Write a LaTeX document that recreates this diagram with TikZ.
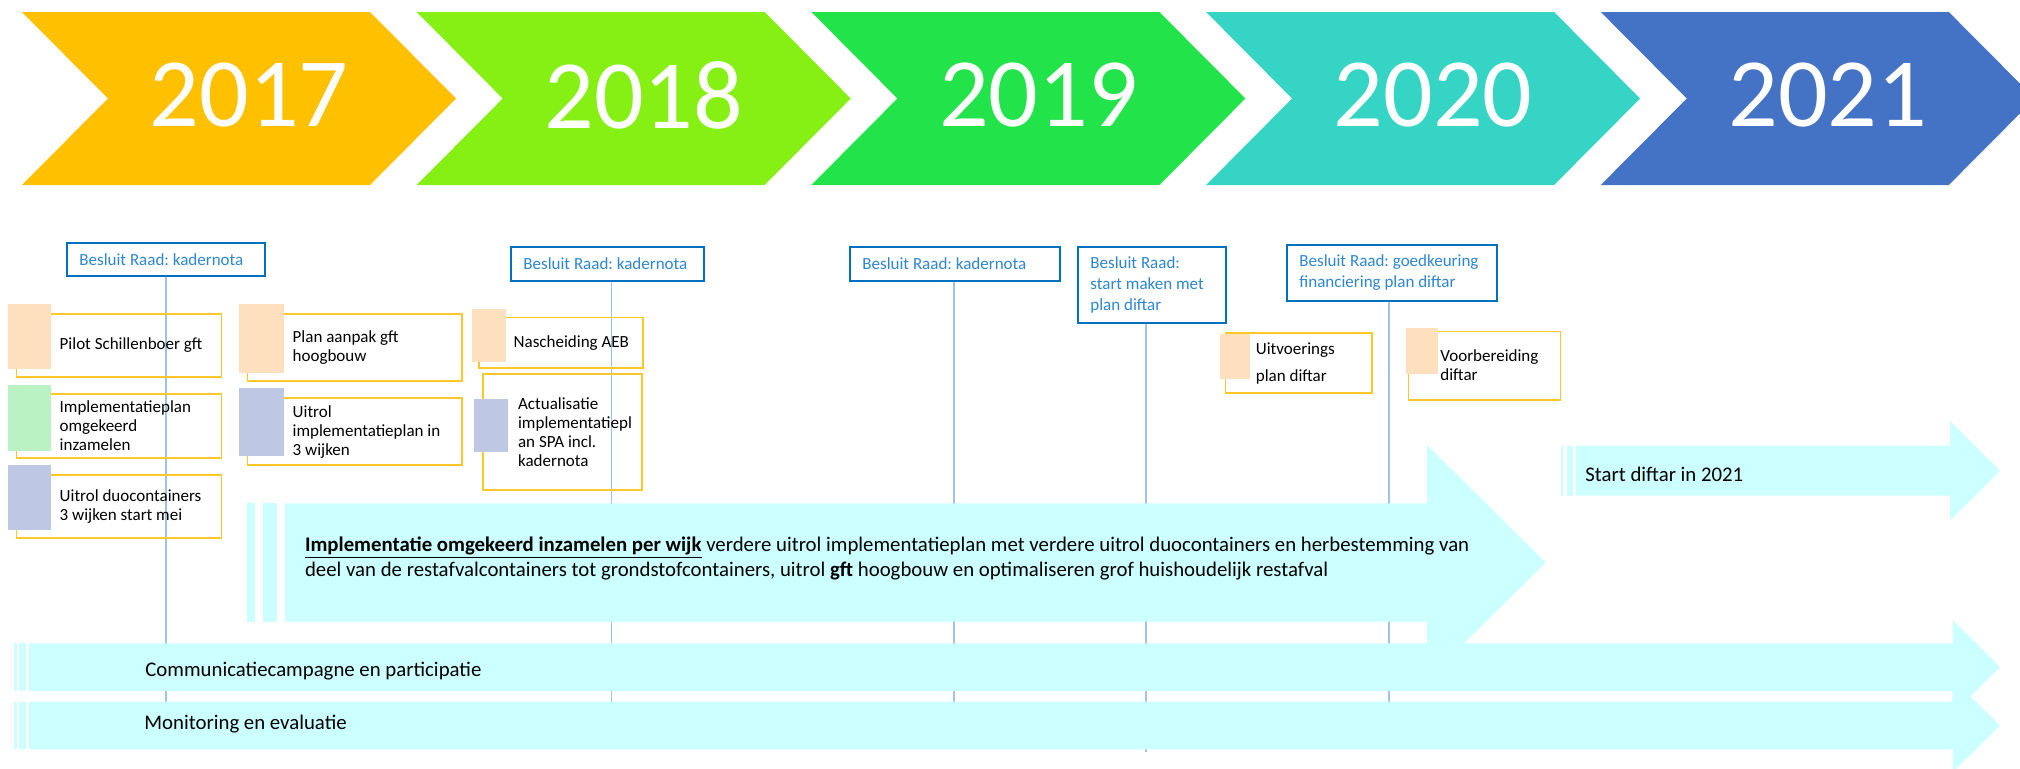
\documentclass[tikz,border=0pt]{standalone}
\usepackage{fontspec}
\setmainfont{Carlito}
\definecolor{cY}{RGB}{255,192,0}
\definecolor{cGa}{RGB}{134,240,20}
\definecolor{cGb}{RGB}{34,227,74}
\definecolor{cT}{RGB}{54,212,196}
\definecolor{cB}{RGB}{68,114,196}
\definecolor{cyanA}{RGB}{204,255,255}
\definecolor{peach}{RGB}{255,224,190}
\definecolor{mint}{RGB}{186,242,196}
\definecolor{lav}{RGB}{190,200,228}
\definecolor{ybord}{RGB}{255,200,40}
\definecolor{bbord}{RGB}{0,112,192}
\definecolor{btext}{RGB}{46,134,210}
\definecolor{vline}{RGB}{157,195,230}
\newcommand\chev[2]{\fill[#2] (#1,12) -- ++(348,0) -- ++(86,86.5) -- ++(-86,86.5) -- ++(-348,0) -- ++(86,-86.5) -- cycle;}
\newcommand\yrect[5]{\node[ybox, minimum width={(#4-#2)*0.5pt}, minimum height={(#5-#3)*0.5pt}] (#1) at (#2,#3) {};}
\newcommand\sqr[6]{\node[sq, fill=#6, minimum width={(#4-#2)*0.5pt}, minimum height={(#5-#3)*0.5pt}] (#1) at (#2,#3) {};}
\begin{document}
\frenchspacing
\begin{tikzpicture}[x=0.5pt,y=-0.5pt,
  year/.style={font=\fontsize{49}{49}\selectfont, text=white, inner sep=0},
  bbox/.style={draw=bbord, line width=1pt, fill=white, inner sep=0, anchor=north west},
  btxt/.style={anchor=west, align=left, inner sep=0, font=\fontsize{8.5}{10.5}\selectfont, text=btext},
  ybox/.style={draw=ybord, line width=0.75pt, inner sep=0, anchor=north west},
  sq/.style={inner sep=0, anchor=north west},
  ytext/.style={anchor=west, align=left, inner sep=0, font=\fontsize{8.5}{9.5}\selectfont},
  vl/.style={draw=vline, line width=0.75pt},
  afill/.style={fill=cyanA},
  atext/.style={anchor=west, inner sep=0, font=\fontsize{10.4}{12}\selectfont}]
\useasboundingbox (0,0) rectangle (2020,768);
\clip (0,0) rectangle (2020,768);
% chevrons
\chev{22}{cY}
\chev{416.7}{cGa}
\chev{811.4}{cGb}
\chev{1206.1}{cT}
\chev{1600.8}{cB}
\node[year] (y17) at (249,95.5) {2017};
\node[year] (y18) at (643.7,95.5) {2018};
\node[year] (y19) at (1038.4,95.5) {2019};
\node[year] (y20) at (1433.1,95.5) {2020};
\node[year] (y21) at (1827.8,95.5) {2021};
% decision boxes
\node[bbox, minimum width=99pt, minimum height=16.5pt] (b1) at (66,242) {};
\node[btxt] (bt1) at ([xshift=6.5pt]b1.west) {Besluit Raad: kadernota};
\node[bbox, minimum width=96.5pt, minimum height=17pt] (b2) at (510,246) {};
\node[btxt] (bt2) at ([xshift=6.5pt]b2.west) {Besluit Raad: kadernota};
\node[bbox, minimum width=105pt, minimum height=17pt] (b3) at (849,246) {};
\node[btxt] (bt3) at ([xshift=6.5pt]b3.west) {Besluit Raad: kadernota};
\node[bbox, minimum width=74pt, minimum height=38pt] (b4) at (1077,246) {};
\node[btxt] (bt4) at ([xshift=6.5pt]b4.west) {Besluit Raad:\\start maken met\\plan diftar};
\node[bbox, minimum width=105pt, minimum height=28pt] (b5) at (1286,244) {};
\node[btxt] (bt5) at ([xshift=6.5pt]b5.west) {Besluit Raad: goedkeuring\\financiering plan diftar};
\coordinate (e1) at (166,745);
\coordinate (e2) at (611.7,745);
\coordinate (e3) at (954,745);
\coordinate (e4) at (1146,752);
\coordinate (e5) at (1389,745);
\draw[vl] (e1 |- b1.south) -- (e1);
\draw[vl] (e2 |- b2.south) -- (e2);
\draw[vl] (e3 |- b3.south) -- (e3);
\draw[vl] (e4 |- b4.south) -- (e4);
\draw[vl] (e5 |- b5.south) -- (e5);
% activity boxes
\yrect{A}{15.7}{313.3}{220.7}{376}
\sqr{sA}{8}{304}{50.7}{369}{peach}
\node[ytext, xshift=21.8pt] (tA) at (A.west) {Pilot Schillenboer gft};
\yrect{B}{15.7}{393.3}{220.7}{457.3}
\sqr{sB}{8}{384.3}{50.7}{450.7}{mint}
\node[ytext, xshift=21.8pt] (tB) at (B.west) {Implementatieplan\\omgekeerd\\inzamelen};
\yrect{C}{15.7}{474}{220.7}{537}
\sqr{sC}{8}{465}{50.7}{530}{lav}
\node[ytext, xshift=21.8pt] (tC) at (C.west) {Uitrol duocontainers\\3 wijken start mei};
\yrect{D}{246.7}{313.3}{461.3}{380}
\sqr{sD}{238.3}{303.3}{283.3}{372.7}{peach}
\node[ytext, xshift=22.8pt] (tD) at (D.west) {Plan aanpak gft\\hoogbouw};
\yrect{E}{246.7}{397.3}{461.3}{464.3}
\sqr{sE}{238.3}{387.7}{283.3}{456}{lav}
\node[ytext, xshift=22.8pt] (tE) at (E.west) {Uitrol\\implementatieplan in\\3 wijken};
\yrect{F}{478.3}{316.7}{642.3}{367.3}
\sqr{sF}{471.7}{309}{506}{361.7}{peach}
\node[ytext, xshift=17.5pt] (tF) at (F.west) {Nascheiding AEB};
\yrect{G}{482.3}{373.3}{641.3}{489.3}
\sqr{sG}{474}{398.3}{508}{451.7}{lav}
\node[ytext, xshift=17.7pt] (tG) at (G.west) {Actualisatie\\implementatiepl\\an SPA incl.\\kadernota};
\yrect{H}{1224.8}{332.3}{1371.2}{392.3}
\sqr{sH}{1220}{334}{1250}{379}{peach}
\node[ytext, xshift=15.35pt, font=\fontsize{8.5}{13.5}\selectfont] (tH) at (H.west) {Uitvoerings\\plan diftar};
\yrect{I}{1407.8}{330.7}{1559.6}{399}
\sqr{sI}{1406}{327.3}{1438}{374}{peach}
\node[ytext, xshift=16.1pt] (tI) at (I.west) {Voorbereiding\\diftar};
% big arrow
\fill[afill] (285,503.3) -- (1427,503.3) -- (1427,445) -- (1545.7,562.5) -- (1427,680) -- (1427,621.7) -- (285,621.7) -- cycle;
\fill[afill] (247.3,503.3) rectangle (255,621.7);
\fill[afill] (262.7,503.3) rectangle (277.3,621.7);
\node[anchor=west, inner sep=0, align=left, font=\fontsize{10.4}{12.5}\selectfont] (tbig) at (304.6,558.5) {\textbf{\underline{Implementatie omgekeerd inzamelen per wijk}} verdere uitrol implementatieplan met verdere uitrol duocontainers en herbestemming van\\deel van de restafvalcontainers tot grondstofcontainers, uitrol \textbf{gft} hoogbouw en optimaliseren grof huishoudelijk restafval};
% start diftar arrow
\fill[afill] (1576,445.7) -- (1950,445.7) -- (1950,421) -- (2000,470.7) -- (1950,520.4) -- (1950,495.7) -- (1576,495.7) -- cycle;
\fill[afill] (1560.7,445.7) rectangle (1563.3,495.7);
\fill[afill] (1566.7,445.7) rectangle (1573.3,495.7);
\node[atext] (tS) at (1585,474) {Start diftar in 2021};
% communicatie arrow
\fill[afill] (29,643.3) -- (1952.7,643.3) -- (1952.7,620) -- (2000,667) -- (1952.7,714) -- (1952.7,691) -- (29,691) -- cycle;
\fill[afill] (14,643.3) rectangle (16.7,691);
\fill[afill] (19.3,643.3) rectangle (25.7,691);
\node[atext] (tCo) at (145,671.5) {Communicatiecampagne en participatie};
% monitoring arrow
\fill[afill] (29,701.7) -- (1952.7,701.7) -- (1952.7,679) -- (2000,725.5) -- (1952.7,772) -- (1952.7,749.3) -- (29,749.3) -- cycle;
\fill[afill] (14,701.7) rectangle (16.7,749.3);
\fill[afill] (19.3,701.7) rectangle (25.7,749.3);
\node[atext] (tM) at (144,724.5) {Monitoring en evaluatie};
\end{tikzpicture}
\end{document}
